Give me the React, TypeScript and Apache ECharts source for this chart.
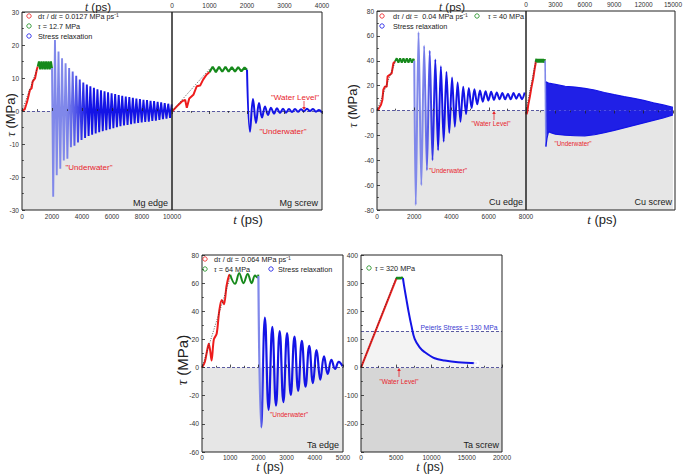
import React, { useEffect, useRef } from 'react';
import * as echarts from 'echarts';

const FONT = '"Liberation Sans", Arial, Helvetica, sans-serif';
const RED = '#ee1c1c';
const GREEN = '#16891b';
const BLUE = '#1414e6';
const LIGHT = '#8088ea';
const NOTE = '#e8242b';
const SHADE = '#e6e6e6';
const DASH = '#5a5aa0';

// ---------- Mg edge ----------
const mgEdgeRampT = [0, 90, 180, 270, 350, 420, 530, 640, 710, 800, 870, 980, 1050];
const mgEdgeRampV = [0, 0.3, 0.5, 1.8, 3, 4.3, 6.4, 6.9, 8.9, 9.5, 9.9, 12.4, 13.5];
const mgEdgeHoldT = [1050, 1130, 1210, 1290, 1370, 1450, 1530, 1610, 1690, 1770, 1850, 1930, 2000];
const mgEdgeHoldV = [13.5, 15, 12.6, 15, 12.6, 15, 12.6, 15, 12.6, 15, 12.6, 15, 13];
const mgEdgeRelaxStart = 2080;
const mgEdgeRelaxStep = 118;
const mgEdgeRelaxV = [
  -26, 21.5, -19.5, 18, -17.5, 16, -15, 14.5, -14.5, 13, -11, 12, -10.5, 10.7, -9.5, 9.5,
  -8.8, 8.6, -8.2, 8, -7.6, 7.5, -7.2, 7, -6.8, 6.6, -6.4, 6.3, -6.1, 6, -5.8, 5.7,
  -5.5, 5.4, -5.2, 5.1, -4.9, 4.8, -4.6, 4.6, -4.4, 4.4, -4.2, 4.2, -4, 4, -3.8, 3.8,
  -3.6, 3.6, -3.5, 3.4, -3.3, 3.3, -3.2, 3.1, -3, 3, -2.9, 2.8, -2.7, 2.6, -2.5, 2.4,
  -2.3, 2.2, -2.1, 2,
];

// ---------- Mg screw ----------
const mgScrewRampT = [0, 130, 263, 350, 395, 460, 570, 660, 750, 830, 920, 1000];
const mgScrewRampV = [-0.2, 1.4, 2.9, 3.4, 1.0, 3.8, 4.9, 7.5, 7.7, 9.5, 11, 11.8];
const mgScrewHoldT = [1000, 1085, 1170, 1255, 1340, 1425, 1510, 1595, 1680, 1765, 1850, 1935, 2000];
const mgScrewHoldV = [11.8, 13.4, 11.8, 13.4, 11.9, 13.4, 11.9, 13.3, 11.9, 13.3, 12, 13.2, 12.5];
const mgScrewRelaxStart = 2080;
const mgScrewRelaxStep = 80;
const mgScrewRelaxV = [
  -6.3, 3.6, -3.6, 2.4, -2.0, 1.4, -1.2, 1.0, -0.8, 0.8, -0.6, 0.7, -0.5, 0.6, -0.3, 0.6,
  -0.2, 0.5, -0.1, 0.7, 0, 0.6, -0.2, 0.3, -0.5,
];

// ---------- Cu edge ----------
const cuEdgeRampT = [0, 70, 150, 215, 290, 340, 430, 520, 570, 700, 790, 880, 970];
const cuEdgeRampV = [0, 0.7, 3, 4.7, 8.7, 16.7, 19.4, 19, 27.5, 28.8, 30, 38, 39.5];
const cuEdgeHoldT = [970, 1060, 1150, 1240, 1330, 1420, 1510, 1600, 1690, 1780, 1870, 1950, 2000];
const cuEdgeHoldV = [39.5, 42, 38.5, 42, 38.5, 42, 38.5, 42, 38.5, 42, 38.5, 41.5, 40];
const cuEdgeRelaxStart = 2080;
const cuEdgeRelaxStep = 150;
const cuEdgeRelaxV = [
  -76, 63, -60, 52, -48, 48, -40, 41, -32, 35.5, -25, 31, -18, 26.5, -13, 22.5, -9, 19, -3, 18,
  2, 17, 5, 16, 7, 15.5, 8, 15, 8.5, 14.5, 9, 14, 9, 13.5, 9, 14, 9.5, 13.5, 9, 14.5,
];

// ---------- Cu screw ----------
const cuScrewRampT = [0, 60, 130, 235, 400, 540, 640, 740, 870, 970, 1000];
const cuScrewRampV = [-1, -3, -1, 4.7, 11.4, 18, 22, 26, 32.8, 37.4, 39];
const cuScrewHoldT = [1000, 1080, 1160, 1240, 1320, 1400, 1480, 1560, 1640, 1720, 1800, 1880, 1950];
const cuScrewHoldV = [39, 41.5, 38.5, 41.5, 38.5, 41.5, 38.5, 41.5, 38.5, 41.5, 38.5, 41, 40];
const cuScrewDropT = [1950, 2030];
const cuScrewDropV = [40, -29];
const cuScrewUpperT = [2030, 2300, 3000, 4000, 5000, 6000, 7000, 8000, 9000, 10000, 11000, 12000, 13000, 14000, 15000];
const cuScrewUpperV = [23, 22, 21, 19.5, 18.8, 17.8, 16.5, 14.5, 12.8, 11.2, 9.8, 8.2, 6.2, 4.5, 2.5];
const cuScrewLowerT = [2030, 2150, 2300, 2600, 3000, 4000, 5000, 6000, 7000, 8000, 9000, 10000, 11000, 12000, 13000, 14000, 15000];
const cuScrewLowerV = [-29, -22, -17, -18, -19, -19.8, -20.3, -20.4, -19.5, -17.8, -16, -14, -12, -10, -8, -6, -3.5];

// ---------- Ta edge ----------
const taEdgeRampT = [0, 100, 180, 240, 290, 340, 420, 520, 610, 700, 780, 870, 960, 1000];
const taEdgeRampV = [0, 4, 12, 17, 12, 5, 20, 24, 40, 48, 45, 58, 65.5, 66];
const taEdgeHoldT = [1000, 1170, 1320, 1470, 1620, 1760, 1880, 1960, 2000];
const taEdgeHoldV = [66, 59.5, 67, 60, 66.5, 60, 65.5, 64, 66];
const taEdgeRelaxStart = 2100;
const taEdgeRelaxStep = 131;
const taEdgeRelaxV = [
  -42.5, 35.5, -30, 29, -27, 26, -24.5, 24.5, -19.5, 22, -16.5, 19, -13.5, 15.5, -11, 12.5,
  -8.5, 8, -4.5, 5.5, -1, 4, 1,
];

// ---------- Ta screw ----------
const taScrewRampT = [0, 5000];
const taScrewRampV = [0, 315];
const taScrewHoldT = [5000, 5150, 5300, 5450, 5600, 5750, 5950];
const taScrewHoldV = [315, 320, 316, 320, 316, 320, 318];
const taScrewRelaxT = [5950, 6100, 6430, 6760, 7140, 7610, 8320, 9030, 10450, 11870, 13760, 16400];
const taScrewRelaxV = [318, 292, 244, 197, 150, 102, 72, 55, 33, 25, 19, 15.5];
const peierlsStress = 130;

// loading-rate reference lines (slopes from legends)
const mgFitT = [0, 1000];
const mgFitV = [0, 12.7];
const cuFitT = [0, 1000];
const cuFitV = [0, 40];
const taEdgeFitT = [0, 1000];
const taEdgeFitV = [0, 64];
const taScrewFitT = [0, 5000];
const taScrewFitV = [0, 320];

const zip = (ts: number[], vs: number[]) => ts.map((t, i) => [t, vs[i]]);
const osc = (t0: number, dt: number, vs: number[]) => vs.map((v, i) => [t0 + i * dt, v]);

const grids = [
  { left: 22, top: 12, width: 150, height: 198 },
  { left: 172, top: 12, width: 150, height: 198 },
  { left: 377, top: 11, width: 149, height: 199 },
  { left: 526, top: 11, width: 149, height: 199 },
  { left: 202, top: 255, width: 141, height: 197 },
  { left: 361, top: 255, width: 141, height: 197 },
];

function xAx(gi: number, min: number, max: number, interval: number, position: string, labels: boolean, fs: number, margin = 3) {
  return {
    type: 'value', gridIndex: gi, min, max, interval, position,
    axisLine: { show: false },
    axisTick: { show: true, inside: true, length: 3, lineStyle: { color: '#222', width: 0.8 } },
    minorTick: { show: true, splitNumber: 2, length: 1.8, lineStyle: { color: '#222', width: 0.8 } },
    splitLine: { show: false },
    axisLabel: { show: labels, fontSize: fs, color: '#333', fontFamily: FONT, margin, formatter: (v: number) => String(v) },
    z: 5,
  };
}
function yAx(gi: number, min: number, max: number, interval: number, labels: boolean, fs: number, hide?: number) {
  return {
    type: 'value', gridIndex: gi, min, max, interval, position: 'left',
    axisLine: { show: false },
    axisTick: { show: labels, inside: true, length: 3, lineStyle: { color: '#222', width: 0.8 } },
    minorTick: { show: labels, splitNumber: 2, length: 1.8, lineStyle: { color: '#222', width: 0.8 } },
    splitLine: { show: false },
    axisLabel: {
      show: labels, fontSize: fs, color: '#333', fontFamily: FONT, margin: 3,
      formatter: (v: number) => (v === hide ? '' : String(v)),
    },
    z: 5,
  };
}

function line(gi: number, data: number[][], color: any, width = 2, extra: any = {}) {
  return {
    type: 'line', xAxisIndex: gi, yAxisIndex: gi, data, showSymbol: false, symbol: 'none',
    lineStyle: { color, width }, z: 3, silent: true, ...extra,
  };
}
function fit(gi: number, data: number[][]) {
  return line(gi, data, '#333', 0.8, { lineStyle: { color: '#333', width: 0.8, type: [1, 1.5] }, z: 4 });
}
function shade(gi: number, x0: number, areas: any[], lines: number[]) {
  return {
    type: 'line', xAxisIndex: gi, yAxisIndex: gi, data: [[x0, 0]], showSymbol: false, symbol: 'none',
    lineStyle: { width: 0 }, silent: true, z: 1,
    markArea: { silent: true, z: 1, data: areas },
    markLine: {
      silent: true, z: 2, symbol: 'none', label: { show: false },
      lineStyle: { type: [3, 2], color: DASH, width: 1 },
      data: lines.map((v) => ({ yAxis: v })),
    },
  };
}
function grad(a: number, b: number) {
  return new echarts.graphic.LinearGradient(0, 0, 1, 0, [
    { offset: 0, color: LIGHT }, { offset: a, color: LIGHT }, { offset: b, color: BLUE }, { offset: 1, color: BLUE },
  ]);
}

function txt(x: number, y: number, text: string, size: number, color = '#222', align = 'center', extra: any = {}) {
  return {
    type: 'text', x, y, z: 60, silent: true,
    style: {
      text, fill: color, fontSize: size, fontFamily: FONT, align, verticalAlign: 'middle',
      rich: {
        i: { fontStyle: 'italic', fontSize: size, fill: color, fontFamily: '"Liberation Serif", serif' },
      },
      ...extra,
    },
  };
}
function circ(cx: number, cy: number, color: string) {
  return { type: 'circle', z: 60, silent: true, shape: { cx, cy, r: 2.2 }, style: { fill: 'none', stroke: color, lineWidth: 0.8 } };
}
function arrow(x: number, y0: number, y1: number) {
  const dir = y1 > y0 ? 1 : -1;
  return [
    { type: 'line', z: 60, silent: true, shape: { x1: x, y1: y0, x2: x, y2: y1 - dir * 2 }, style: { stroke: NOTE, lineWidth: 0.8 } },
    { type: 'polygon', z: 60, silent: true, shape: { points: [[x - 1.8, y1 - dir * 3], [x + 1.8, y1 - dir * 3], [x, y1]] }, style: { fill: NOTE } },
  ];
}

function buildOption() {
  const series: any[] = [
    // Mg edge
    shade(0, 0, [[{ yAxis: -30, itemStyle: { color: SHADE } }, { yAxis: 0 }]], [0]),
    fit(0, zip(mgFitT, mgFitV)),
    line(0, zip(mgEdgeRampT, mgEdgeRampV), RED, 2),
    line(0, zip(mgEdgeHoldT, mgEdgeHoldV), GREEN, 2),
    line(0, [[2000, 13], ...osc(mgEdgeRelaxStart, mgEdgeRelaxStep, mgEdgeRelaxV)], grad(0.12, 0.3), 1.9),
    // Mg screw
    shade(1, 0, [[{ yAxis: -30, itemStyle: { color: SHADE } }, { yAxis: 0 }]], [0]),
    fit(1, zip(mgFitT, mgFitV)),
    line(1, zip(mgScrewRampT, mgScrewRampV), RED, 2),
    line(1, zip(mgScrewHoldT, mgScrewHoldV), GREEN, 2.2),
    line(1, [[2000, 12.5], ...osc(mgScrewRelaxStart, mgScrewRelaxStep, mgScrewRelaxV)], BLUE, 2, { smooth: 0.4 }),
    // Cu edge
    shade(2, 0, [[{ yAxis: -80, itemStyle: { color: SHADE } }, { yAxis: 0 }]], [0]),
    fit(2, zip(cuFitT, cuFitV)),
    line(2, zip(cuEdgeRampT, cuEdgeRampV), RED, 2),
    line(2, zip(cuEdgeHoldT, cuEdgeHoldV), GREEN, 2),
    line(2, [[2000, 40], ...osc(cuEdgeRelaxStart, cuEdgeRelaxStep, cuEdgeRelaxV)], grad(0.08, 0.2), 2, { smooth: 0.3 }),
    // Cu screw
    shade(3, 0, [[{ yAxis: -80, itemStyle: { color: SHADE } }, { yAxis: 0 }]], [0]),
    fit(3, zip(cuFitT, cuFitV)),
    line(3, zip(cuScrewRampT, cuScrewRampV), RED, 2),
    line(3, zip(cuScrewHoldT, cuScrewHoldV), GREEN, 2.4),
    line(3, zip(cuScrewDropT, cuScrewDropV), LIGHT, 1.6),
    line(3, zip(cuScrewUpperT, cuScrewUpperV), BLUE, 1.2, { areaStyle: { color: BLUE, origin: 0, opacity: 0.95 } }),
    line(3, zip(cuScrewLowerT, cuScrewLowerV), BLUE, 1.2, { areaStyle: { color: BLUE, origin: 0, opacity: 0.95 } }),
    // Ta edge
    shade(4, 0, [[{ yAxis: -60, itemStyle: { color: SHADE } }, { yAxis: 0 }]], [0]),
    fit(4, zip(taEdgeFitT, taEdgeFitV)),
    line(4, zip(taEdgeRampT, taEdgeRampV), RED, 2, { smooth: 0.3 }),
    line(4, zip(taEdgeHoldT, taEdgeHoldV), GREEN, 2, { smooth: 0.4 }),
    line(4, [[2000, 65], ...osc(taEdgeRelaxStart, taEdgeRelaxStep, taEdgeRelaxV)], grad(0.02, 0.06), 2.2, { smooth: 0.45 }),
    // Ta screw
    shade(5, 0, [
      [{ yAxis: -300, itemStyle: { color: '#d6d6d6' } }, { yAxis: 0 }],
      [{ yAxis: 0, itemStyle: { color: '#f3f3f3' } }, { yAxis: peierlsStress }],
    ], [0, peierlsStress]),
    fit(5, zip(taScrewFitT, taScrewFitV)),
    line(5, zip(taScrewRampT, taScrewRampV), RED, 2),
    line(5, zip(taScrewHoldT, taScrewHoldV), GREEN, 2.4),
    line(5, zip(taScrewRelaxT, taScrewRelaxV), BLUE, 2, { smooth: 0.35 }),
    {
      type: 'scatter', xAxisIndex: 5, yAxisIndex: 5, silent: true, z: 4,
      data: [zip(taScrewRelaxT, taScrewRelaxV)[taScrewRelaxT.length - 1]],
      symbol: 'emptyCircle', symbolSize: 4, itemStyle: { color: '#fff', borderColor: BLUE, borderWidth: 0.8 },
    },
  ];

  const frames = grids.map((g) => ({
    type: 'rect', z: 55, silent: true,
    shape: { x: g.left, y: g.top, width: g.width, height: g.height },
    style: { fill: 'none', stroke: '#222', lineWidth: 1 },
  }));

  const graphic: any[] = [
    ...frames,
    // axis titles
    txt(98, 6.5, '{i|t} (ps)', 11.5),
    txt(248, 219, '{i|t} (ps)', 13),
    txt(452, 6.5, '{i|t} (ps)', 11.5),
    txt(602, 219, '{i|t} (ps)', 13),
    txt(270, 467, '{i|t} (ps)', 12),
    txt(430, 467, '{i|t} (ps)', 12),
    { ...txt(10, 115, '{i|τ} (MPa)', 13), rotation: Math.PI / 2 },
    { ...txt(352, 106, '{i|τ} (MPa)', 13), rotation: Math.PI / 2 },
    { ...txt(182, 360, '{i|τ} (MPa)', 15), rotation: Math.PI / 2 },
    // panel names
    txt(168, 203, 'Mg edge', 9, '#222', 'right'),
    txt(318, 203, 'Mg screw', 9, '#222', 'right'),
    txt(523, 202, 'Cu edge', 9, '#222', 'right'),
    txt(672, 202, 'Cu screw', 9, '#222', 'right'),
    txt(339, 445, 'Ta edge', 9, '#222', 'right'),
    txt(499, 445, 'Ta screw', 9, '#222', 'right'),
    // annotations
    txt(89, 167, '"Underwater"', 8, NOTE),
    txt(295, 97, '"Water Level"', 8, NOTE),
    ...arrow(304, 101, 110),
    txt(283, 131, '"Underwater"', 8, NOTE),
    txt(491, 123, '"Water Level"', 6.5, NOTE),
    ...arrow(494, 120, 111),
    txt(448, 170, '"Underwater"', 6.5, NOTE),
    txt(573, 143, '"Underwater"', 6.3, NOTE),
    txt(289, 414, '"Underwater"', 6.5, NOTE),
    txt(399, 381, '"Water Level"', 6.5, NOTE),
    ...arrow(399, 377, 368),
    txt(459, 327, 'Peierls Stress = 130 MPa', 6.8, '#3a3ad0'),
    // legends
    circ(29, 16, RED), txt(38, 16, 'd{i|τ} / d{i|t} = 0.0127 MPa ps⁻¹', 7.3, '#222', 'left'),
    circ(29, 26, GREEN), txt(38, 26, '{i|τ} = 12.7 MPa', 7.3, '#222', 'left'),
    circ(29, 36, BLUE), txt(38, 36, 'Stress relaxation', 7.3, '#222', 'left'),
    circ(382, 16, RED), txt(393, 16, 'd{i|τ} / d{i|t} =  0.04 MPa ps⁻¹', 7.3, '#222', 'left'),
    circ(477, 16, GREEN), txt(488, 16, '{i|τ} = 40 MPa', 7.3, '#222', 'left'),
    circ(382, 26, BLUE), txt(393, 26, 'Stress relaxation', 7.3, '#222', 'left'),
    circ(205, 259, RED), txt(214, 259, 'd{i|τ} / d{i|t} = 0.064 MPa ps⁻¹', 7.3, '#222', 'left'),
    circ(205, 269, GREEN), txt(214, 269, '{i|τ} = 64 MPa', 7.3, '#222', 'left'),
    circ(271, 269, BLUE), txt(278, 269, 'Stress relaxation', 7.3, '#222', 'left'),
    circ(369, 268, GREEN), txt(375, 268, '{i|τ} = 320 MPa', 7.3, '#222', 'left'),
  ];

  return {
    animation: false,
    backgroundColor: '#fff',
    grid: grids.map((g) => ({ ...g, show: false, containLabel: false })),
    xAxis: [
      xAx(0, 0, 10000, 2000, 'bottom', true, 6.5),
      xAx(1, 0, 4000, 1000, 'top', true, 6.5),
      xAx(2, 0, 8000, 2000, 'bottom', true, 6.5),
      xAx(3, 0, 15000, 3000, 'top', true, 6.5),
      xAx(4, 0, 5000, 1000, 'bottom', true, 6.5, 1.5),
      xAx(5, 0, 20000, 5000, 'bottom', true, 6.5, 1.5),
    ],
    yAxis: [
      yAx(0, -30, 30, 10, true, 6.5),
      yAx(1, -30, 30, 10, false, 6.5),
      yAx(2, -80, 80, 20, true, 6.5),
      yAx(3, -80, 80, 20, false, 6.5),
      yAx(4, -60, 80, 20, true, 6.8),
      yAx(5, -300, 400, 100, true, 6.8, -300),
    ],
    series,
    graphic: { elements: graphic },
  };
}

export default function App() {
  const ref = useRef<HTMLDivElement>(null);
  useEffect(() => {
    const chart = echarts.init(ref.current!, null, { renderer: 'svg' });
    chart.setOption(buildOption() as any);
    return () => chart.dispose();
  }, []);
  return (
    <div
      ref={ref}
      style={{ position: 'fixed', left: 0, top: 0, width: 685, height: 474, background: '#fff' }}
    />
  );
}
